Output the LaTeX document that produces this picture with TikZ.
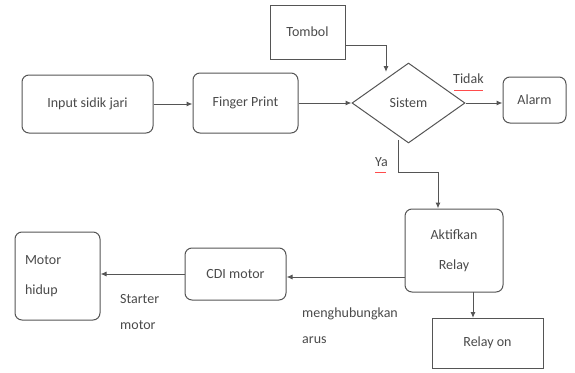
\documentclass[tikz,border=0pt]{standalone}
\usepackage{fontspec}
\setmainfont{Carlito}
\usetikzlibrary{arrows.meta,shapes.geometric}
\definecolor{ln}{HTML}{555555}
\definecolor{tx}{HTML}{4A4A4A}
\tikzset{
  rbox/.style={draw=ln,line width=1pt,rounded corners=7pt,text=tx,font=\fontsize{14}{17}\selectfont},
  sbox/.style={draw=ln,line width=1pt,text=tx,font=\fontsize{14}{17}\selectfont},
  lbl/.style={text=tx,font=\fontsize{14}{26}\selectfont,align=left,anchor=north west,inner sep=0pt},
  arr/.style={draw=ln,line width=1pt,-{Latex[length=6pt,width=5pt]}}
}
\begin{document}
\begin{tikzpicture}[x=1pt,y=-1pt]
\useasboundingbox (0,0) rectangle (575,372);
\node[rbox,minimum width=131pt,minimum height=58pt] (inp) at (87.5,104) {Input sidik jari};
\node[rbox,minimum width=105pt,minimum height=60pt] (fp) at (245.5,103) {Finger Print};
\node[sbox,minimum width=75pt,minimum height=54pt] (tom) at (307.5,32) {Tombol};
\node[diamond,draw=ln,line width=1pt,text=tx,font=\fontsize{14}{17}\selectfont,minimum width=113pt,minimum height=80pt,inner sep=0pt] (sis) at (408.5,103) {Sistem};
\node[rbox,minimum width=63pt,minimum height=46pt] (al) at (534.5,100) {Alarm};
\node[rbox,minimum width=98pt,minimum height=83pt,align=center,font=\fontsize{14}{30}\selectfont] (ak) at (454,250.5) {Aktifkan\\Relay};
\node[rbox,minimum width=101pt,minimum height=52pt] (cdi) at (235.5,274) {CDI motor};
\node[rbox,minimum width=85pt,minimum height=88pt,text width=65pt,align=left,font=\fontsize{14}{30}\selectfont] (mh) at (57.5,276) {Motor\\hidup};
\node[sbox,minimum width=111pt,minimum height=50pt] (ro) at (487.5,343) {Relay on};
\coordinate (t1) at (386,45);
\coordinate (s1) at (398,172);
\coordinate (s2) at (438,172);
\draw[arr] (inp.east) -- (inp.east -| fp.west);
\draw[arr] (fp.east) -- (sis.west);
\draw[arr] (tom.east |- t1) -- (t1) -- (386,72);
\draw[arr] (sis.east) -- (al.west |- sis.east);
\draw[arr] (398,140) -- (s1) -- (s2) -- (s2 |- ak.north);
\draw[arr] (ak.west |- 0,277) -- (cdi.east |- 0,277);
\draw[arr] (cdi.west) -- (mh.east |- cdi.west);
\draw[arr] (473,292) -- (473,318);
\node[lbl] (tidak) at (453,74) {Tidak};
\draw[red!70,line width=0.8pt] (454,90) -- (483,90);
\node[lbl] (ya) at (375,157) {Ya};
\draw[red!70,line width=0.8pt] (375,172) -- (386,172);
\node[lbl] (st) at (120,294) {Starter\\motor};
\node[lbl] (mg) at (302,308) {menghubungkan\\arus};
\end{tikzpicture}
\end{document}
